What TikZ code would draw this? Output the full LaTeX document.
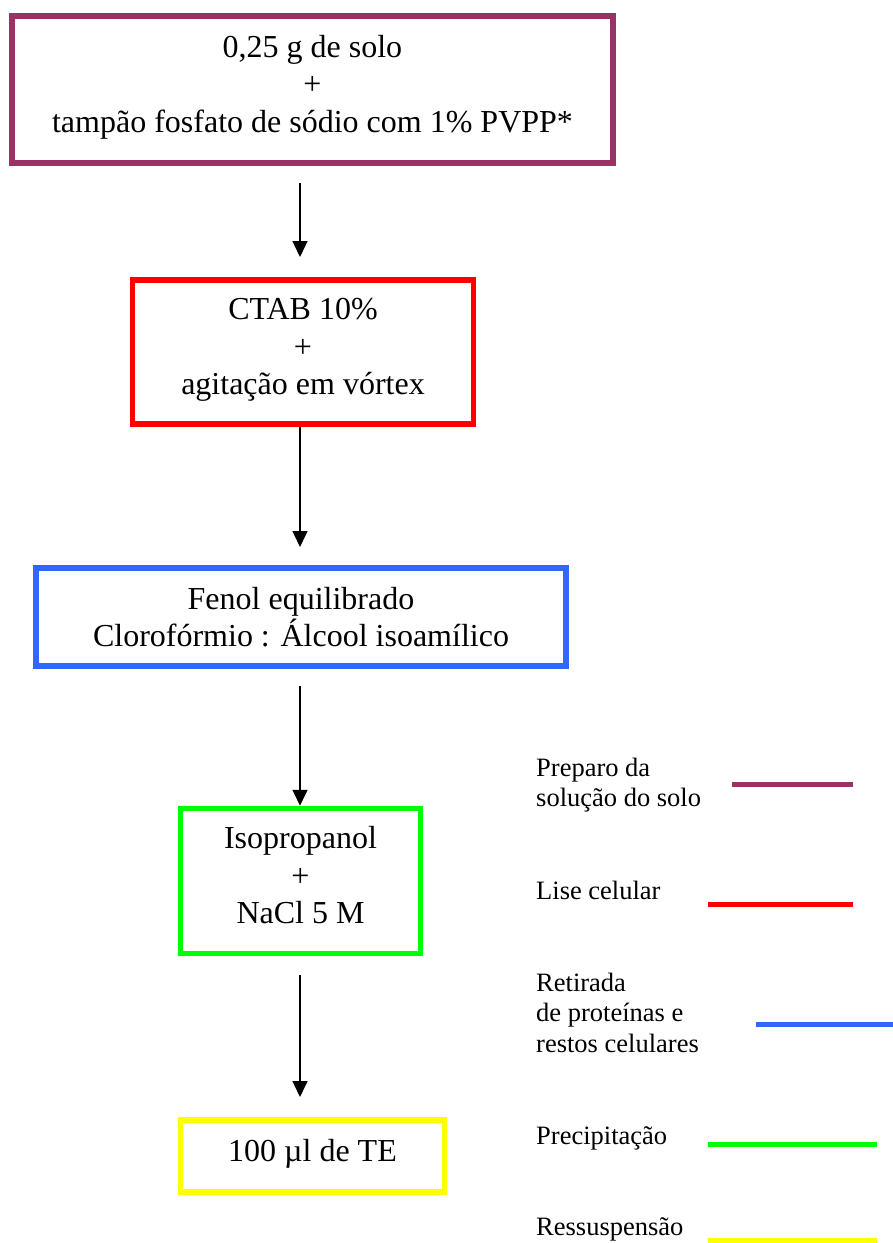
\documentclass[tikz,border=0pt]{standalone}
\usepackage{fontspec}
\setmainfont{Liberation Serif}
\usetikzlibrary{arrows.meta}

\definecolor{plum}{HTML}{993366}
\definecolor{lisered}{HTML}{FF0000}
\definecolor{bluephase}{HTML}{3366FF}
\definecolor{greenphase}{HTML}{00FF00}
\definecolor{yellowphase}{HTML}{FFFF00}

% uniform line struts for the step boxes and the legend
\newcommand{\bxstrut}{\rule[-13.5pt]{0pt}{37.5pt}}
\newcommand{\bxtopstrut}{\rule{0pt}{35pt}}
\newcommand{\lgstrut}{\rule[-10.5pt]{0pt}{30.5pt}}

\begin{document}
\begin{tikzpicture}[x=1pt,y=-1pt,
  stepbox/.style={draw, line width=5.5pt, rectangle, inner sep=0pt, align=center,
    font={\fontsize{32}{37.5}\selectfont\lineskiplimit=-100pt}},
  legtext/.style={anchor=north west, inner sep=0pt, align=left,
    font={\fontsize{26.5}{30.5}\selectfont\lineskiplimit=-100pt}},
  legline/.style={line width=5pt},
  arr/.style={line width=1.5pt, -{Triangle[length=16pt,width=15pt]}}]

\useasboundingbox (0,0) rectangle (893,1243);

% ---- protocol steps ----
\node[stepbox, draw=plum, minimum width=601pt, minimum height=147pt] (solo) at (312.5,89.5)
  {\bxstrut 0,25 g de solo\\ \bxstrut +\\ \bxstrut tampão fosfato de sódio com 1\% PVPP*};
\node[stepbox, draw=lisered, minimum width=341pt, minimum height=144pt] (ctab) at (303,352)
  {\bxstrut CTAB 10\%\\ \bxstrut +\\ \bxstrut agitação em vórtex};
\node[stepbox, draw=bluephase, minimum width=530pt, minimum height=98pt] (fenol) at (301,617)
  {\bxstrut\bxtopstrut Fenol equilibrado\\ \bxstrut Clorofórmio : Álcool isoamílico};
\node[stepbox, draw=greenphase, minimum width=240pt, minimum height=145pt] (isop) at (300.5,881)
  {\bxstrut Isopropanol\\ \bxstrut +\\ \bxstrut NaCl 5 M};
\node[stepbox, draw=yellowphase, minimum width=264pt, minimum height=72pt] (te) at (312.5,1156)
  {\bxstrut 100 µl de TE};

% ---- flow arrows on a common vertical axis ----
\coordinate (ax) at (300,0);
\draw[arr, shorten <=17.25pt, shorten >=20.25pt] (solo.south -| ax) -- (ctab.north -| ax);
\draw[arr, shorten >=18.25pt] (ctab.south -| ax) -- (fenol.north -| ax);
\draw[arr, shorten <=17.25pt] (fenol.south -| ax) -- (isop.north -| ax);
\draw[arr, shorten <=18.75pt, shorten >=20.25pt] (isop.south -| ax) -- (te.north -| ax);

% ---- legend ----
\node[legtext] (lgA) at (536,756) {\lgstrut Preparo da\\ \lgstrut solução do solo};
\node[legtext] (lgB) at (536,879) {\lgstrut Lise celular};
\node[legtext] (lgC) at (536,971) {\lgstrut Retirada\\ \lgstrut de proteínas e\\ \lgstrut restos celulares};
\node[legtext] (lgD) at (536,1124) {\lgstrut Precipitação};
\node[legtext] (lgE) at (536,1215) {\lgstrut Ressuspensão};

\draw[legline, plum] (732,784) -- (853,784);
\draw[legline, lisered] (708,904) -- (853,904);
\draw[legline, bluephase] (756,1024) -- (893,1024);
\draw[legline, greenphase] (708,1144) -- (877,1144);
\draw[legline, yellowphase] (708,1240) -- (877,1240);
\end{tikzpicture}
\end{document}
